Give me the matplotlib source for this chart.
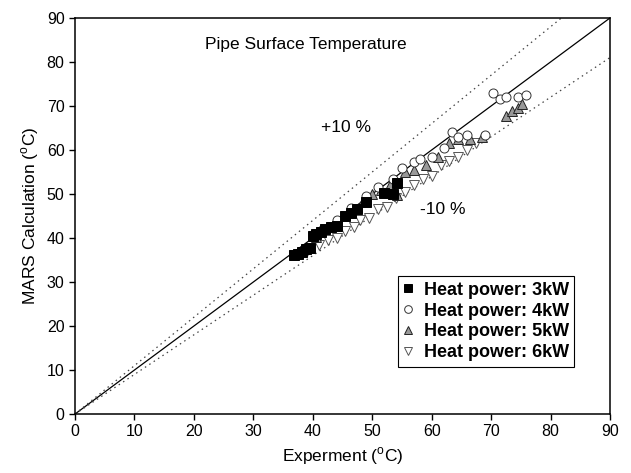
import matplotlib
matplotlib.use("Agg")
import matplotlib.pyplot as plt
import numpy as np

plt.rcParams['font.family'] = ['Liberation Sans', 'DejaVu Sans']
plt.rcParams['mathtext.fontset'] = 'custom'
plt.rcParams['mathtext.rm'] = 'Liberation Sans'

x_3kw = [36.8, 37.5, 38.2, 38.8, 39.5, 40.0, 40.6, 41.3, 42.0, 43.0, 44.0, 45.5, 46.5, 47.5, 49.0, 52.0, 53.5, 54.2]
y_3kw = [36.2, 36.4, 36.9, 37.4, 37.8, 40.4, 41.0, 41.4, 42.0, 42.4, 42.8, 45.0, 45.6, 46.5, 48.2, 50.2, 50.0, 52.5]

x_4kw = [41.5, 44.0, 46.5, 49.0, 51.0, 53.5, 55.0, 57.0, 58.0, 60.0, 62.0, 63.5, 64.5, 66.0, 69.0, 70.3, 71.5, 72.5, 74.5, 75.8]
y_4kw = [41.8, 44.0, 46.8, 49.5, 51.5, 53.5, 55.8, 57.3, 58.0, 58.5, 60.5, 64.0, 63.0, 63.5, 63.5, 73.0, 71.5, 72.0, 72.0, 72.5]

x_5kw = [40.5, 43.5, 46.0, 48.5, 50.0, 51.5, 53.0, 54.2, 55.5, 57.0, 59.0, 61.0, 63.0, 64.5, 66.5, 68.5, 72.5, 73.5, 74.5, 75.2]
y_5kw = [40.2, 43.0, 45.8, 48.5, 50.0, 51.0, 52.0, 49.8, 55.0, 55.5, 56.5, 58.5, 61.5, 62.5, 62.5, 63.0, 67.8, 68.8, 69.5, 70.5]

x_6kw = [39.0, 41.0, 42.5, 44.0, 45.5, 47.0, 48.0, 49.5, 51.0, 52.5, 54.0, 55.5, 57.0, 58.5, 60.0, 61.5, 63.0, 64.5, 66.0, 67.5]
y_6kw = [37.0, 38.5, 39.5, 40.0, 41.5, 42.5, 44.0, 44.5, 46.5, 47.0, 49.0, 50.5, 52.0, 53.5, 54.0, 56.5, 57.5, 58.5, 60.0, 61.5]

labels = ['Heat power: 3kW', 'Heat power: 4kW', 'Heat power: 5kW', 'Heat power: 6kW']
xticks = [0, 10, 20, 30, 40, 50, 60, 70, 80, 90]
yticks = [0, 10, 20, 30, 40, 50, 60, 70, 80, 90]

fig = plt.figure(figsize=(6.31, 4.73), dpi=100)
ax = fig.add_axes([0.1189, 0.1247, 0.8478, 0.8373])

line = np.array([0, 90])
ax.plot(line, line, color='black', lw=0.9, zorder=1)
ax.plot(line, line * 1.1, color='#444444', lw=0.9, ls=(0, (1.2, 3)), zorder=1)
ax.plot(line, line * 0.9, color='#444444', lw=0.9, ls=(0, (1.2, 3)), zorder=1)

ms = 6.5
ax.plot(x_6kw, y_6kw, 'v', ms=ms, mfc='white', mec='#555555', mew=0.7, ls='none', label=labels[3], zorder=2)
ax.plot(x_5kw, y_5kw, '^', ms=ms, mfc='#999999', mec='#222222', mew=0.7, ls='none', label=labels[2], zorder=3)
ax.plot(x_4kw, y_4kw, 'o', ms=ms, mfc='white', mec='#333333', mew=0.7, ls='none', label=labels[1], zorder=3)
ax.plot(x_3kw, y_3kw, 's', ms=ms, mfc='black', mec='black', mew=0.7, ls='none', label=labels[0], zorder=4)

ax.set_xlim(0, 90)
ax.set_ylim(0, 90)
ax.set_xticks(xticks)
ax.set_yticks(yticks)
ax.tick_params(direction='out', length=4, width=1, labelsize=11.5, top=False, right=False)
for s in ax.spines.values():
    s.set_linewidth(1.1)

ax.set_xlabel(r'Experment ($^{\rm o}$C)', fontsize=12.5)
ax.set_ylabel(r'MARS Calculation ($^{\rm o}$C)', fontsize=12.5)

ax.text(38.9, 83.9, 'Pipe Surface Temperature', fontsize=12.5, ha='center', va='center')
ax.text(45.6, 65.0, '+10 %', fontsize=12.5, ha='center', va='center')
ax.text(61.8, 46.4, '-10 %', fontsize=12.5, ha='center', va='center')

handles, labs = ax.get_legend_handles_labels()
order = [3, 2, 1, 0]
leg = ax.legend([handles[i] for i in order], [labs[i] for i in order],
                loc='lower right', bbox_to_anchor=(0.933, 0.119), frameon=True,
                fancybox=False, edgecolor='black', framealpha=1,
                prop={'weight': 'bold', 'size': 13}, handlelength=0.5, markerscale=0.85,
                handletextpad=0.6, borderpad=0.3, labelspacing=0.22, borderaxespad=0)
leg.get_frame().set_linewidth(0.8)

fig.savefig('out.png', dpi=100)
